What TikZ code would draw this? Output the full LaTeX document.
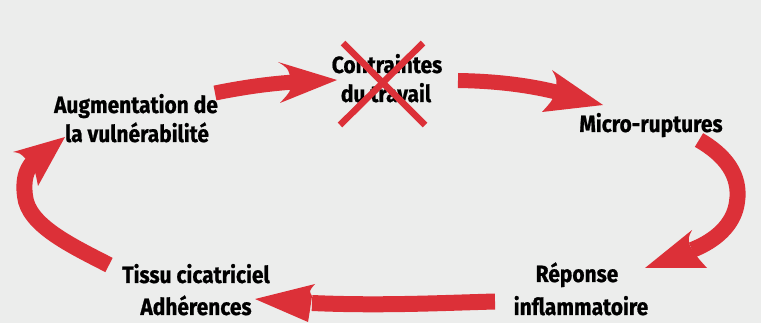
\documentclass[tikz,border=0pt]{standalone}
\usepackage{fontspec}
\setmainfont{Fira Sans}[FakeStretch=0.89,BoldFeatures={FakeBold=0.8}]
\definecolor{bgc}{HTML}{ECEDEC}
\definecolor{arrred}{HTML}{DC3038}
\begin{document}
\begin{tikzpicture}[x=1pt,y=-1pt,
  lbl/.style={inner sep=0pt,anchor=base,font=\fontsize{23.5}{28}\selectfont\bfseries,text=black},
  shaft/.style={draw=arrred,line width=15pt,line cap=butt},
  headfill/.style={fill=arrred,draw=none},
  xline/.style={draw=arrred,line width=6.5pt,line cap=butt}]
\fill[bgc] (0,0) rectangle (761,323);
\useasboundingbox (0,0) rectangle (761,323);

% arrow 1: vulnerabilite -> contraintes
\coordinate (a1s) at (215,93);
\coordinate (a1e) at (294,82);
\draw[shaft] (a1s) .. controls (240,88) and (265,84) .. (a1e);
\fill[headfill] (337,80) -- (278,62) .. controls (288,68) .. (291,80) .. controls (291,91) .. (280,103) -- cycle;

% arrow 2: contraintes -> micro-ruptures
\coordinate (a2s) at (458,80.5);
\coordinate (a2e) at (560,93);
\draw[shaft] (a2s) .. controls (490,81) and (525,84) .. (a2e);
\fill[headfill] (603,105) -- (552,70) .. controls (557,79) .. (556,91) .. controls (552,101) .. (542,112) -- cycle;

% arrow 3: micro-ruptures -> reponse
\coordinate (a3s) at (699,140);
\coordinate (a3e) at (692,250);
\draw[shaft,line width=16pt] (a3s) .. controls (725,155) and (741,175) .. (737,202) .. controls (734,225) and (715,241) .. (a3e);
\fill[headfill] (645,268) -- (692,230) .. controls (688,238) .. (690,246) .. controls (697,257) .. (707,268) -- cycle;

% arrow 4: reponse -> tissu
\coordinate (a4s) at (495,301.5);
\coordinate (a4e) at (312,303);
\draw[shaft,line width=16pt] (a4s) .. controls (440,303) and (380,306) .. (a4e);
\fill[headfill] (255,299) -- (315,284) .. controls (309,291) .. (312,296) .. controls (310,310) .. (308,322) -- cycle;

% arrow 5: tissu -> vulnerabilite
\coordinate (a5s) at (109,265);
\coordinate (a5e) at (33,162);
\draw[shaft,line width=16pt] (a5s) .. controls (70,245) and (28,225) .. (25,196) .. controls (23,180) and (26,170) .. (a5e);
\fill[headfill] (65,137) -- (13,152) .. controls (20,153) .. (27,160) .. controls (35,170) .. (38,186) -- cycle;

% labels
\node[lbl] (c1) at (387,73) {Contraintes};
\node[lbl] (c2) at (386,102) {du travail};
\node[lbl] (m1) at (651,132) {Micro-ruptures};
\node[lbl] (r1) at (577,282) {Réponse};
\node[lbl] (r2) at (581,315) {inflammatoire};
\node[lbl] (t1) at (196,283) {Tissu cicatriciel};
\node[lbl] (t2) at (196,315) {Adhérences};
\node[lbl] (v1) at (136,113) {Augmentation de};
\node[lbl] (v2) at (137,142) {la vulnérabilité};

% red cross
\coordinate (x1) at (343,43);
\coordinate (x2) at (425,125);
\coordinate (x3) at (423,43);
\coordinate (x4) at (340,125);
\draw[xline] (x1) -- (x2);
\draw[xline] (x3) -- (x4);
\end{tikzpicture}
\end{document}
